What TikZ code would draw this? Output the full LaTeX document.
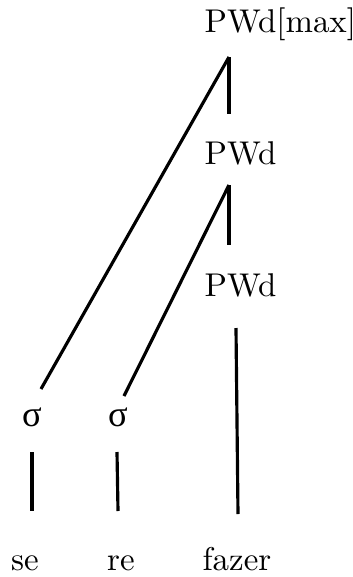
\documentclass[tikz,border=0pt]{standalone}
\usepackage{fontspec}
\newfontfamily\greekfont{Liberation Serif}
\usetikzlibrary{positioning}

\begin{document}
\begin{tikzpicture}[
  x=0.316pt, y=-0.316pt,
  font=\fontsize{10.4}{12}\selectfont,
  lbl/.style={inner sep=0pt, anchor=base west},
  syl/.style={inner sep=0pt, anchor=base, font=\fontsize{11.5}{13}\greekfont},
  seg/.style={inner sep=0pt, anchor=base},
  branch/.style={line width=1pt, draw=black}
]
  \useasboundingbox (0,0) rectangle (353,577);

  % prosodic words
  \node[lbl] (max) at (204,32) {PWd[max]};
  \node[lbl] (mid) at (204,164) {PWd};
  \node[lbl] (low) at (204,296) {PWd};

  % syllables
  \node[syl] (s1) at (32,426) {σ};
  \node[syl] (s2) at (118,426) {σ};

  % segments
  \node[seg] (w1) at (25,570) {se};
  \node[seg] (w2) at (121,570) {re};
  \node[seg] (w3) at (237,570) {fazer};

  \draw[branch] ([shift={(25,25)}]max.base west) -- ([shift={(9,-37)}]s1.base);
  \draw[branch] ([shift={(25,25)}]max.base west) -- ([shift={(25,-50)}]mid.base west);
  \draw[branch] ([shift={(25,21)}]mid.base west) -- ([shift={(6,-30)}]s2.base);
  \draw[branch] ([shift={(25,21)}]mid.base west) -- ([shift={(25,-51)}]low.base west);
  \draw[branch] ([shift={(32,32)}]low.base west) -- ([shift={(1,-56)}]w3.base);
  \draw[branch] ([shift={(0,26)}]s1.base) -- ([shift={(7,-59)}]w1.base);
  \draw[branch] ([shift={(-1,26)}]s2.base) -- ([shift={(-3,-59)}]w2.base);

\end{tikzpicture}
\end{document}
